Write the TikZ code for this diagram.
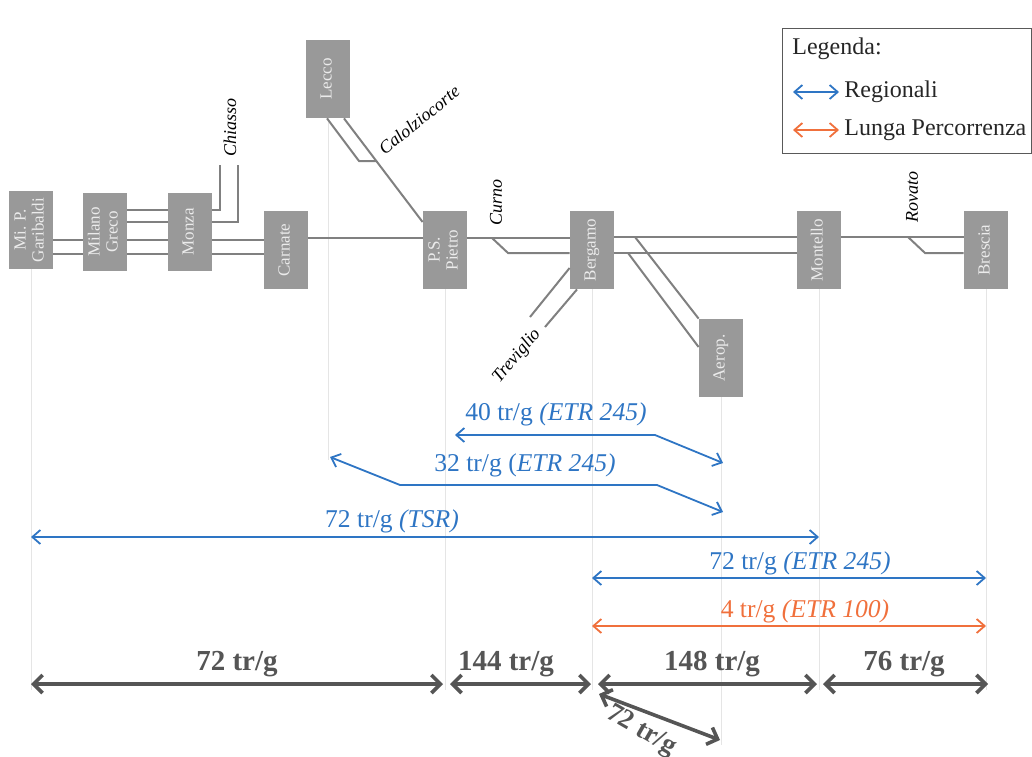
\documentclass[tikz,border=0pt]{standalone}
\usepackage{fontspec}
\setmainfont{Liberation Serif}
\usepackage{graphicx}
\usetikzlibrary{arrows.meta}

\definecolor{regblue}{RGB}{46,117,196}
\definecolor{lporange}{RGB}{240,112,60}
\definecolor{flowgray}{RGB}{85,85,85}

\newcommand{\stname}[1]{\rotatebox{90}{\begin{tabular}{@{}c@{}}#1\end{tabular}}}

\begin{document}
\begin{tikzpicture}[
    x=0.5pt, y=-0.5pt,
    station/.style={fill=gray!80, minimum width=22pt, minimum height=39pt, inner sep=0pt, text=white!92!black, font=\fontsize{8.5}{9}\selectfont},
    track/.style={draw=black!50, line width=1pt},
    guide/.style={draw=black!10, line width=0.4pt},
    place/.style={font=\fontsize{9}{10}\selectfont\itshape, inner sep=1pt},
    regarrow/.style={draw=regblue, line width=0.9pt, {Straight Barb[length=4pt,width=7pt]}-{Straight Barb[length=4pt,width=7pt]}},
    lparrow/.style={regarrow, draw=lporange},
    flowarrow/.style={draw=flowgray, line width=1.8pt, {Straight Barb[length=4.5pt,width=9pt]}-{Straight Barb[length=4.5pt,width=9pt]}},
    reglabel/.style={text=regblue, font=\fontsize{12.8}{14}\selectfont, inner sep=0pt},
    flowlabel/.style={text=flowgray, font=\fontsize{14.5}{16}\selectfont\bfseries, inner sep=0pt},
    legtext/.style={text=black!85, font=\fontsize{12}{14}\selectfont, inner sep=0pt, anchor=west}
]
\useasboundingbox (0,0) rectangle (1032,756);

% Stations
\node[station] (garibaldi) at (31,230) {\stname{Mi. P.\\Garibaldi}};
\node[station] (greco) at (105,232) {\stname{Milano\\Greco}};
\node[station] (monza) at (190,232) {\stname{Monza}};
\node[station] (carnate) at (286,250) {\stname{Carnate}};
\node[station] (lecco) at (328,79) {\stname{Lecco}};
\node[station] (pietro) at (445,250) {\stname{P.S.\\Pietro}};
\node[station] (bergamo) at (592,250) {\stname{Bergamo}};
\node[station] (aerop) at (721,358) {\stname{Aerop.}};
\node[station] (montello) at (819,250) {\stname{Montello}};
\node[station] (brescia) at (986,250) {\stname{Brescia}};

% Guides
\draw[guide] (garibaldi.south) -- (garibaldi |- 0,690);
\draw[guide] (lecco.south) -- (lecco |- 0,460);
\draw[guide] (pietro.south) -- (pietro |- 0,690);
\draw[guide] (bergamo.south) -- (bergamo |- 0,690);
\draw[guide] (aerop.south) -- (aerop |- 0,745);
\draw[guide] (montello.south) -- (montello |- 0,690);
\draw[guide] (brescia.south) -- (brescia |- 0,690);

% Tracks
\draw[track] (garibaldi.east |- 0,240) -- (greco.west |- 0,240);
\draw[track] (garibaldi.east |- 0,254) -- (greco.west |- 0,254);
\draw[track] (greco.east |- 0,210) -- (monza.west |- 0,210);
\draw[track] (greco.east |- 0,222) -- (monza.west |- 0,222);
\draw[track] (greco.east |- 0,240) -- (monza.west |- 0,240);
\draw[track] (greco.east |- 0,254) -- (monza.west |- 0,254);
\draw[track] (monza.east |- 0,240) -- (carnate.west |- 0,240);
\draw[track] (monza.east |- 0,254) -- (carnate.west |- 0,254);
\draw[track] (carnate.east |- 0,238) -- (pietro.west |- 0,238);
\draw[track] (pietro.east |- 0,238) -- (bergamo.west |- 0,238);
\draw[track] (bergamo.east |- 0,237) -- (montello.west |- 0,237);
\draw[track] (bergamo.east |- 0,253) -- (montello.west |- 0,253);
\draw[track] (montello.east |- 0,237) -- (brescia.west |- 0,237);

% Branches
\coordinate (chiassoA) at (220,165);
\coordinate (chiassoB) at (238,165);
\draw[track] (monza.east |- 0,210) -| (chiassoA);
\draw[track] (monza.east |- 0,222) -| (chiassoB);
\node[place, rotate=90] (chiasso) at (230,127) {Chiasso};

\coordinate (calolzio) at (376,161);
\draw[track] (lecco.south -| 327,0) -- (359,161) -- (calolzio);
\draw[track] (lecco.south -| 344,0) -- (pietro.west |- 0,222);
\node[place, rotate=39, anchor=base west] (calolziocorte) at (383,157) {Calolziocorte};

\coordinate (curnoA) at (492,238);
\draw[track] (curnoA) -- (508,253) -- (bergamo.west |- 0,253);
\node[place, rotate=90] (curno) at (496,202) {Curno};

\coordinate (trevA) at (530,317);
\coordinate (trevB) at (545,327);
\draw[track] (bergamo.west |- 0,268) -- (trevA);
\draw[track] (bergamo.south -| 577,0) -- (trevB);
\node[place, rotate=50] (treviglio) at (517,356) {Treviglio};

\coordinate (aeroA) at (635,237);
\coordinate (aeroB) at (628,253);
\draw[track] (aeroA) -- (aerop.north west);
\draw[track] (aeroB) -- (aerop.west |- 0,347);

\coordinate (rovatoA) at (908,237);
\draw[track] (rovatoA) -- (925,253) -- (brescia.west |- 0,253);
\node[place, rotate=90] (rovato) at (912,197) {Rovato};

% Regional services
\coordinate (r40w) at (455,435);
\coordinate (r40e) at (723,463);
\draw[regarrow] (r40w) -- (655,435) -- (r40e);
\node[reglabel] (l40) at (556,414) {40 tr/g \textit{(ETR 245)}};

\coordinate (r32w) at (330,457);
\coordinate (r32e) at (723,512);
\draw[regarrow] (r32w) -- (400,485) -- (657,485) -- (r32e);
\node[reglabel] (l32) at (525,465) {32 tr/g (\textit{ETR 245)}};

\draw[regarrow] (garibaldi |- 0,537) -- (montello |- 0,537);
\node[reglabel] (ltsr) at (392,521) {72 tr/g \textit{(TSR)}};

\draw[regarrow] (bergamo |- 0,578) -- (brescia |- 0,578);
\node[reglabel] (l72) at (800,563) {72 tr/g \textit{(ETR 245)}};

\draw[lparrow] (bergamo |- 0,626) -- (brescia |- 0,626);
\node[reglabel, text=lporange] (l4) at (805,611) {4 tr/g \textit{(ETR 100)}};

% Flows
\coordinate (f1) at (31,684);
\coordinate (f2) at (443,684);
\coordinate (f3) at (450,684);
\coordinate (f4) at (591,684);
\coordinate (f5) at (598,684);
\coordinate (f6) at (817,684);
\coordinate (f7) at (823,684);
\coordinate (f8) at (988,684);
\coordinate (f9) at (599,694);
\coordinate (f10) at (720,740);
\draw[flowarrow] (f1) -- (f2);
\draw[flowarrow] (f3) -- (f4);
\draw[flowarrow] (f5) -- (f6);
\draw[flowarrow] (f7) -- (f8);
\draw[flowarrow] (f9) -- (f10);
\node[flowlabel] (fl1) at (237,664) {72 tr/g};
\node[flowlabel] (fl2) at (506,664) {144 tr/g};
\node[flowlabel] (fl3) at (712,664) {148 tr/g};
\node[flowlabel] (fl4) at (904,664) {76 tr/g};
\node[flowlabel, rotate=-30, font=\fontsize{13.5}{15}\selectfont\bfseries] (fl5) at (641,731) {72 tr/g};

% Legend
\node[draw=black!65, line width=0.6pt, anchor=north west, minimum width=124.5pt, minimum height=62.5pt, inner sep=0pt] (legend) at (782,28) {};
\node[legtext] (legtitle) at (792,49) {Legenda:};
\coordinate (lreg1) at (793,92);
\coordinate (lreg2) at (839,92);
\coordinate (llp1) at (793,130);
\coordinate (llp2) at (839,130);
\draw[regarrow] (lreg1) -- (lreg2);
\draw[lparrow] (llp1) -- (llp2);
\node[legtext] (legreg) at (844,92) {Regionali};
\node[legtext] (leglp) at (844,130) {Lunga Percorrenza};
\end{tikzpicture}
\end{document}
